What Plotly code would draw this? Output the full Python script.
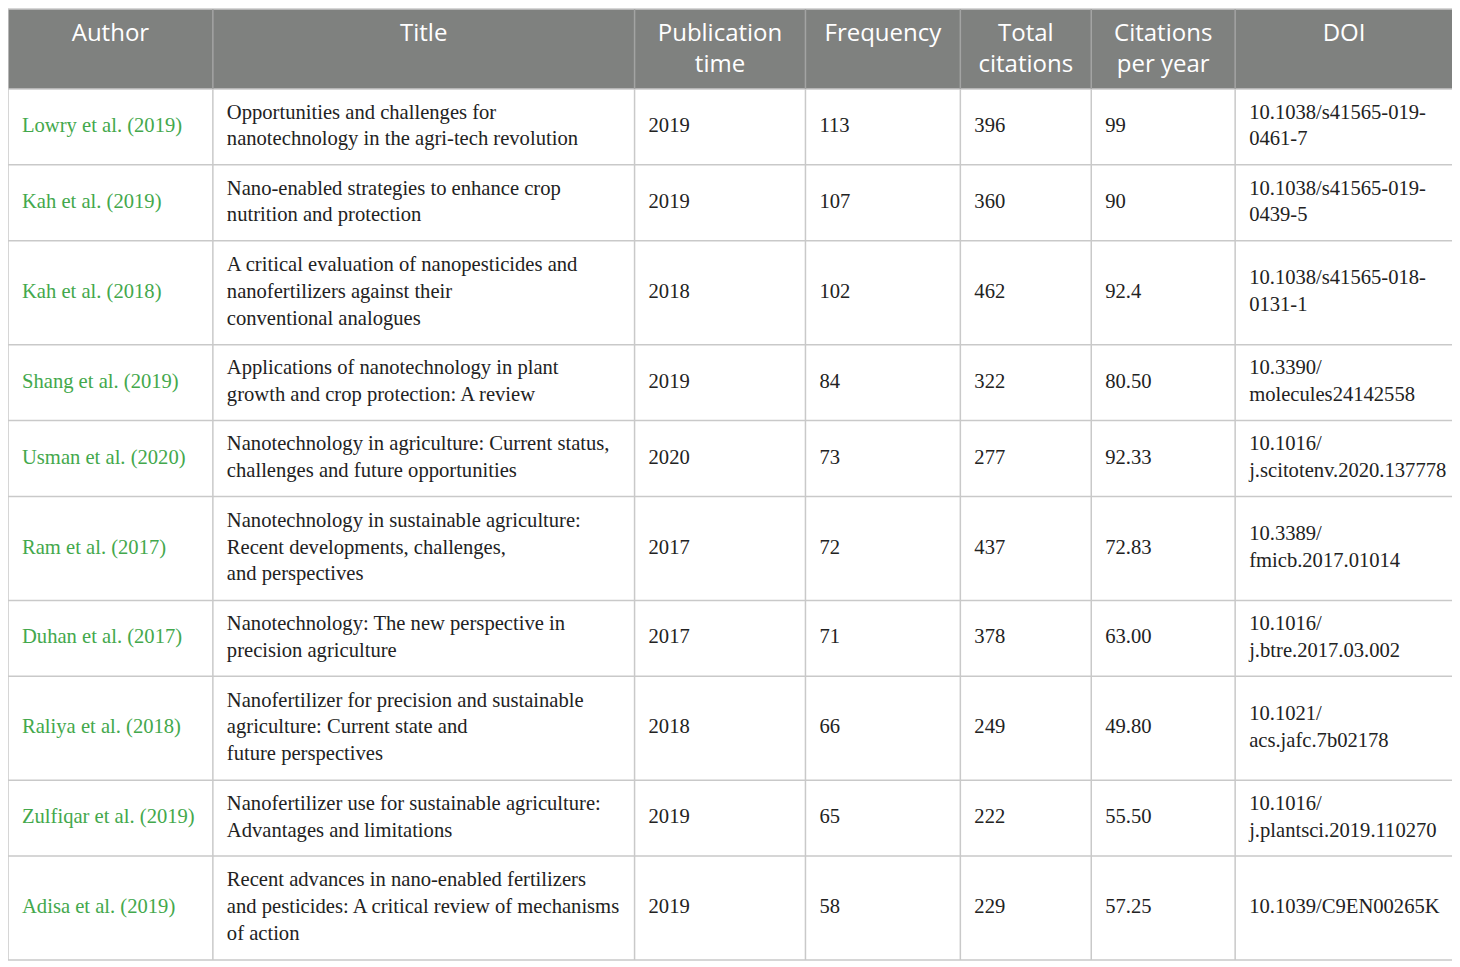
import plotly.graph_objects as go

# Table content
headers = ["Author", "Title", "Publication<br>time", "Frequency", "Total<br>citations",
           "Citations<br>per year", "DOI"]

authors = ["Lowry et al. (2019)", "Kah et al. (2019)", "Kah et al. (2018)", "Shang et al. (2019)",
           "Usman et al. (2020)", "Ram et al. (2017)", "Duhan et al. (2017)", "Raliya et al. (2018)",
           "Zulfiqar et al. (2019)", "Adisa et al. (2019)"]

titles = [
    "Opportunities and challenges for<br>nanotechnology in the agri-tech revolution",
    "Nano-enabled strategies to enhance crop<br>nutrition and protection",
    "A critical evaluation of nanopesticides and<br>nanofertilizers against their<br>conventional analogues",
    "Applications of nanotechnology in plant<br>growth and crop protection: A review",
    "Nanotechnology in agriculture: Current status,<br>challenges and future opportunities",
    "Nanotechnology in sustainable agriculture:<br>Recent developments, challenges,<br>and perspectives",
    "Nanotechnology: The new perspective in<br>precision agriculture",
    "Nanofertilizer for precision and sustainable<br>agriculture: Current state and<br>future perspectives",
    "Nanofertilizer use for sustainable agriculture:<br>Advantages and limitations",
    "Recent advances in nano-enabled fertilizers<br>and pesticides: A critical review of mechanisms<br>of action",
]

pub_time = ["2019", "2019", "2018", "2019", "2020", "2017", "2017", "2018", "2019", "2019"]
frequency = ["113", "107", "102", "84", "73", "72", "71", "66", "65", "58"]
total_citations = ["396", "360", "462", "322", "277", "437", "378", "249", "222", "229"]
citations_per_year = ["99", "90", "92.4", "80.50", "92.33", "72.83", "63.00", "49.80", "55.50", "57.25"]

dois = [
    "10.1038/s41565-019-<br>0461-7",
    "10.1038/s41565-019-<br>0439-5",
    "10.1038/s41565-018-<br>0131-1",
    "10.3390/<br>molecules24142558",
    "10.1016/<br>j.scitotenv.2020.137778",
    "10.3389/<br>fmicb.2017.01014",
    "10.1016/<br>j.btre.2017.03.002",
    "10.1021/<br>acs.jafc.7b02178",
    "10.1016/<br>j.plantsci.2019.110270",
    "10.1039/C9EN00265K",
]

col_widths = [205, 422, 171, 155, 131, 144, 218]

HEADER_BG = "#7F817F"
GRID = "#C9C9C9"
GREEN = "#43A84C"
TEXT = "#222222"

# the page body has an 8px margin: axis units are window pixels
PAGE_OFF = 8
W, H = 1460, 967

x0_table = 7
y0_table = 8
header_h = 80
header_size = 24

columns = [authors, titles, pub_time, frequency, total_citations, citations_per_year, dois]

col_edges = [x0_table]
for w in col_widths:
    col_edges.append(col_edges[-1] + w)

# row heights from the number of lines in each row
row_lines = []
for i in range(len(authors)):
    n = max(col[i].count("<br>") + 1 for col in columns)
    row_lines.append(max(n, 2))
row_edges = [y0_table, y0_table + header_h]
for n in row_lines:
    row_edges.append(row_edges[-1] + 28 * n + 20)

fig = go.Figure()

# header background
fig.add_shape(type="rect", x0=col_edges[0], x1=col_edges[-1], y0=row_edges[0], y1=row_edges[1],
              fillcolor=HEADER_BG, line=dict(width=0), layer="below")

# horizontal grid lines
for y in row_edges:
    fig.add_shape(type="line", x0=col_edges[0], x1=col_edges[-1], y0=y, y1=y,
                  line=dict(color=GRID, width=1.5))

# vertical grid lines
for j, x in enumerate(col_edges):
    fig.add_shape(type="line", x0=x, x1=x, y0=row_edges[1], y1=row_edges[-1],
                  line=dict(color=GRID, width=1.5))
    fig.add_shape(type="line", x0=x, x1=x, y0=row_edges[0], y1=row_edges[1],
                  line=dict(color="#A3A4A3" if 0 < j < len(col_edges) - 1 else GRID, width=1.5))

# header text, top aligned
hx = [(col_edges[j] + col_edges[j + 1]) / 2 for j in range(len(headers))]
hy = [row_edges[0] + 26 + h.count("<br>") * header_size * 1.3 / 2 for h in headers]
fig.add_trace(go.Scatter(
    x=hx, y=hy, mode="text", text=headers, textposition="middle center",
    textfont=dict(family="Open Sans", size=header_size, color="white"),
    hoverinfo="skip", showlegend=False,
))

# body text, one trace per column
row_mid = [(row_edges[i + 1] + row_edges[i + 2]) / 2 for i in range(len(authors))]
for j, col in enumerate(columns):
    fig.add_trace(go.Scatter(
        x=[col_edges[j] + 14] * len(col), y=row_mid, mode="text", text=col,
        textposition="middle right",
        textfont=dict(family="Liberation Serif", size=20.6, color=GREEN if j == 0 else TEXT),
        hoverinfo="skip", showlegend=False,
    ))

fig.update_layout(
    width=W - PAGE_OFF, height=H - PAGE_OFF,
    margin=dict(l=0, r=0, t=0, b=0),
    paper_bgcolor="white", plot_bgcolor="white",
    xaxis=dict(range=[PAGE_OFF - 1, W], visible=False, fixedrange=True),
    yaxis=dict(range=[H, PAGE_OFF - 1], visible=False, fixedrange=True),
)

fig.write_html("out.html")
